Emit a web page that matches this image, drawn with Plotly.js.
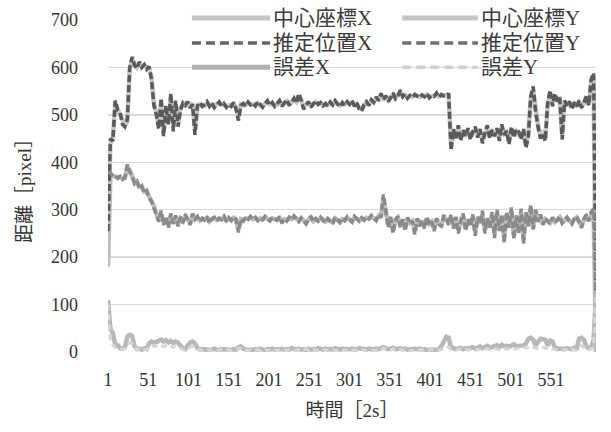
<!DOCTYPE html>
<html><head><meta charset="utf-8">
<script src="https://cdn.plot.ly/plotly-3.0.1.min.js"></script>
<style>html,body{margin:0;padding:0;background:#fff;}#chart{width:611px;height:432px;}</style>
</head><body><div id="chart"></div>
<script>
// categories: time step index (every 3rd sample of 1..607)
const sampleStep = 3;
const catIndex = [];
for (let c = 1; c <= 607; c += sampleStep) catIndex.push(c);

const tickVals = [1, 51, 101, 151, 201, 251, 301, 351, 401, 451, 501, 551];
const tickText = ['1','51','101','151','201','251','301','351','401','451','501','551'];
const yTicks = [0, 100, 200, 300, 400, 500, 600, 700];

const seriesNames = ['中心座標X', '中心座標Y', '推定位置X', '推定位置Y', '誤差X', '誤差Y'];

const centerX = [
250,440,448,525,512,500,484,478,486,596,
618,608,600,606,603,602,600,598,580,525,
505,478,528,462,515,486,538,472,524,480,
515,520,524,522,518,525,470,516,522,521,
519,524,521,522,518,523,524,522,520,519,
520,521,523,515,495,522,520,521,524,523,
522,521,525,520,519,522,527,522,523,520,
521,527,521,524,529,522,526,531,527,540,
532,516,522,525,519,522,527,523,524,521,
522,521,525,523,527,524,520,524,522,526,
524,527,521,523,515,512,520,526,522,530,
528,535,532,541,534,538,531,535,542,536,
541,548,540,542,537,540,538,541,540,538,
540,540,543,538,540,540,543,539,541,541,
541,542,435,466,455,472,450,465,458,468,
452,462,470,456,466,446,460,472,454,465,
459,468,450,475,460,464,444,470,456,466,
460,452,466,438,460,535,552,510,478,456,
462,450,522,545,522,540,532,534,455,528,
522,525,515,524,520,527,518,524,535,522,
570,582,0];

const centerY = [
180,376,372,370,368,369,366,367,390,382,
370,358,357,348,348,338,338,328,316,308,
292,280,292,272,282,268,287,274,284,270,
282,276,286,279,272,288,280,284,277,281,
279,283,275,280,282,278,281,280,284,277,
281,279,283,280,258,280,278,282,280,284,
280,282,279,282,280,284,281,278,282,280,
279,283,275,280,278,282,280,285,281,277,
281,278,273,279,284,276,280,277,282,279,
275,280,277,273,282,278,275,280,278,283,
279,276,284,280,277,282,279,283,281,285,
281,279,287,283,325,292,268,282,258,279,
284,267,279,262,281,272,276,255,280,268,
277,265,282,270,275,260,280,271,267,284,
280,272,285,266,282,258,277,287,262,279,
268,285,252,281,271,292,256,280,266,290,
248,294,260,286,240,290,265,298,246,284,
256,296,238,290,267,304,262,295,275,287,
270,280,276,272,282,274,278,284,273,277,
282,277,272,280,284,275,266,279,286,277,
290,298,0];

const estX = [
255,450,445,530,510,505,480,475,490,600,
622,604,598,612,600,606,596,602,575,520,
500,470,535,455,520,480,545,465,530,475,
510,525,520,528,515,522,458,520,526,518,
522,528,518,525,515,520,527,519,524,516,
522,518,526,512,488,520,524,518,527,521,
525,519,528,522,516,524,530,520,526,518,
523,530,518,526,532,520,528,535,525,545,
530,512,520,528,516,524,530,522,526,519,
524,518,527,521,530,523,517,526,520,528,
522,530,518,525,512,508,522,528,520,532,
526,538,530,545,532,540,528,536,546,534,
540,552,538,544,535,541,537,543,539,536,
542,538,545,536,541,539,546,537,543,540,
540,545,425,470,450,478,445,468,455,472,
448,465,475,452,470,440,462,478,450,468,
455,472,445,480,458,466,438,475,452,470,
465,448,470,430,455,540,560,505,475,450,
460,445,525,552,518,545,528,536,448,530,
520,528,512,526,518,530,515,525,540,520,
575,588,130];

const estY = [
380,378,370,372,366,370,364,368,395,380,
372,355,360,345,350,335,340,325,318,305,
290,275,298,268,285,262,292,270,288,265,
285,272,290,278,268,292,280,286,275,282,
278,285,272,280,284,276,282,279,286,275,
283,277,285,279,252,281,276,284,280,286,
280,284,277,283,279,286,281,276,284,280,
278,285,272,280,276,284,279,287,281,275,
283,277,270,279,286,274,281,276,284,278,
272,281,276,270,284,278,273,282,277,285,
279,274,286,280,276,283,278,285,281,288,
282,277,290,284,332,295,262,285,250,278,
286,262,280,255,284,270,276,248,282,265,
278,260,285,268,275,255,282,270,264,288,
282,268,290,260,285,250,278,292,255,280,
265,290,245,285,270,298,250,282,262,295,
240,300,255,290,230,296,262,305,238,288,
250,302,228,295,265,310,258,300,275,290,
268,282,276,270,284,273,279,286,272,278,
284,276,270,281,286,274,262,280,290,276,
295,302,125];

const errX = [
110,48,40,16,14,8,7,9,32,36,
34,12,6,7,5,8,6,18,22,20,
21,24,26,22,25,20,23,19,22,20,
12,7,6,14,20,22,18,8,5,6,
5,6,4,5,7,5,4,6,5,4,
5,4,6,5,10,12,7,5,4,5,
4,6,5,7,5,4,6,5,7,5,
6,5,7,4,6,5,8,6,5,7,
5,6,4,7,5,6,5,8,6,5,
7,5,6,5,8,6,5,7,6,5,
6,7,5,6,8,7,6,5,7,6,
5,7,6,8,10,8,6,7,9,6,
7,8,6,7,5,6,8,7,6,7,
5,6,4,5,6,5,4,6,12,25,
32,30,10,8,6,7,9,6,8,7,
8,10,7,9,12,8,10,13,9,11,
12,14,10,15,12,13,11,14,16,12,
13,15,14,18,28,30,26,14,22,28,
27,26,14,24,22,10,7,8,7,6,
8,7,6,9,8,28,30,26,12,8,
10,25,125];

const errY = [
100,22,15,10,8,6,5,7,14,20,
18,10,5,6,4,6,5,10,14,12,
12,15,14,12,13,11,12,10,13,11,
8,5,4,8,10,12,9,5,4,4,
4,5,3,4,5,4,3,5,4,3,
4,3,5,4,8,6,5,4,3,4,
3,4,5,3,4,5,3,4,5,4,
4,3,5,4,3,5,4,3,4,5,
3,4,6,4,3,5,4,3,4,4,
5,3,4,5,3,4,5,3,4,3,
4,5,3,4,6,5,4,3,4,4,
3,4,4,3,8,6,5,4,7,4,
4,6,3,5,4,3,4,6,3,4,
5,4,3,4,5,4,3,4,5,8,
12,10,6,5,4,5,6,4,5,4,
5,6,4,5,6,5,6,7,5,6,
7,6,5,7,8,6,7,8,6,7,
8,7,9,8,10,12,10,8,7,9,
10,8,9,8,6,5,4,5,4,5,
5,4,5,4,5,12,14,10,6,5,
6,12,120];

const serif = '"Liberation Serif", "Noto Sans CJK JP", serif';
const styles = [
  {color: '#c6c6c6', width: 4.5, dash: 'solid'},
  {color: '#bdbdbd', width: 4.5, dash: 'solid'},
  {color: '#5a5a5a', width: 3.5, dash: '7px,3px'},
  {color: '#8a8a8a', width: 3.5, dash: '7px,3px'},
  {color: '#b8b8b8', width: 4.5, dash: 'solid'},
  {color: '#d6d6d6', width: 3, dash: '6px,4px'}
];
const values = [centerX, centerY, estX, estY, errX, errY];

const traces = values.map((v, i) => ({
  type: 'scatter', mode: 'lines', x: catIndex, y: v, name: seriesNames[i],
  line: styles[i], showlegend: false, hoverinfo: 'skip'
}));

// hand-built legend (2 columns x 3 rows) in paper coordinates
const legendCols = [[0, 2, 4], [1, 3, 5]];
const colLine = [[0.172, 0.332], [0.603, 0.758]];
const rowY = [1.006, 0.931, 0.858];
const legendStyle = [
  {color: '#c6c6c6', width: 5, dash: 'solid'},
  {color: '#c6c6c6', width: 5, dash: 'solid'},
  {color: '#666666', width: 3.5, dash: '9px,5px'},
  {color: '#6e6e6e', width: 3.5, dash: '9px,5px'},
  {color: '#b0b0b0', width: 5, dash: 'solid'},
  {color: '#d0d0d0', width: 3.5, dash: '9px,5px'}
];
const shapes = [], annotations = [];
legendCols.forEach((col, ci) => {
  col.forEach((si, ri) => {
    shapes.push({type: 'line', xref: 'paper', yref: 'paper',
      x0: colLine[ci][0], x1: colLine[ci][1], y0: rowY[ri], y1: rowY[ri],
      line: legendStyle[si]});
    annotations.push({xref: 'paper', yref: 'paper', x: colLine[ci][1] + 0.002, y: rowY[ri],
      xanchor: 'left', yanchor: 'middle', showarrow: false, text: seriesNames[si],
      font: {family: serif, size: 21, color: '#3a3a3a'}});
  });
});

const layout = {
  width: 611, height: 432,
  margin: {l: 108, r: 15, t: 20, b: 80},
  paper_bgcolor: '#ffffff', plot_bgcolor: '#ffffff',
  showlegend: false,
  xaxis: {
    range: [1, 607], tickvals: tickVals, ticktext: tickText,
    showgrid: false, zeroline: false, showline: false, ticks: '',
    ticklabelstandoff: 15,
    tickfont: {family: serif, size: 18, color: '#333'},
    title: {text: '時間［2s］', font: {family: serif, size: 19, color: '#333'}, standoff: 14}
  },
  yaxis: {
    range: [0, 700], tickvals: yTicks, showgrid: true, gridcolor: '#d9d9d9', gridwidth: 1.5,
    zeroline: false, showline: false, ticks: '',
    ticklabelstandoff: 29,
    tickfont: {family: serif, size: 18, color: '#333'},
    title: {text: '距離［pixel］', font: {family: serif, size: 19, color: '#333'}, standoff: 14}
  },
  shapes: shapes,
  annotations: annotations
};

Plotly.newPlot('chart', traces, layout, {displayModeBar: false, staticPlot: true});
</script>
</body></html>
